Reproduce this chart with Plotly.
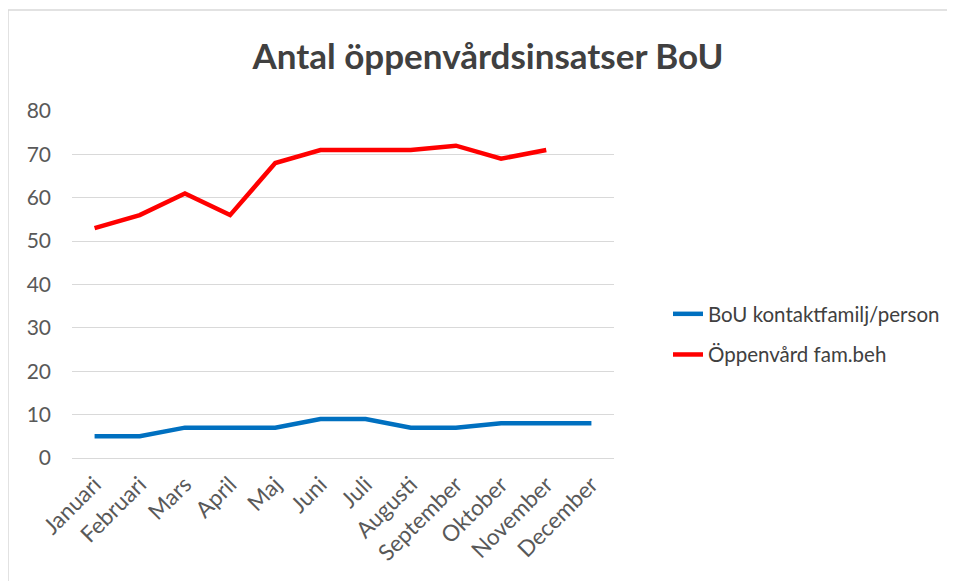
import plotly.graph_objects as go

months = ["Januari", "Februari", "Mars", "April", "Maj", "Juni", "Juli",
          "Augusti", "September", "Oktober", "November", "December"]
bou_kontakt = [5, 5, 7, 7, 7, 9, 9, 7, 7, 8, 8, 8]
oppenvard = [53, 56, 61, 56, 68, 71, 71, 71, 72, 69, 71, None]
y_ticks = [0, 10, 20, 30, 40, 50, 60, 70, 80]

OFF = 8  # page body margin
W, H = 955, 581
# target screen pixel positions of the plot area
L, R, T, B = 72 - OFF, 614 - OFF, 111 - OFF, 458 - OFF
FONT = "Lato"

def px_x(x):
    return (x - OFF - L) / (R - L)

def px_y(y):
    return (B - (y - OFF)) / (B - T)

fig = go.Figure()
fig.add_trace(go.Scatter(x=months, y=bou_kontakt, mode="lines",
                         name="BoU kontaktfamilj/person", legendgroup="a",
                         line=dict(color="#0070C0", width=4.5)))
fig.add_trace(go.Scatter(x=months, y=oppenvard, mode="lines",
                         name="Öppenvård fam.beh", legendgroup="b",
                         line=dict(color="#FF0000", width=4.5)))

fig.update_layout(
    width=W, height=H,
    margin=dict(l=L, r=W - R, t=T, b=H - B, pad=0),
    paper_bgcolor="white", plot_bgcolor="white",
    title=dict(text="<b>Antal öppenvårdsinsatser BoU</b>", x=px_x(488), xref="paper",
               xanchor="center", y=1 - (57 - OFF) / H, yanchor="middle",
               font=dict(family=FONT, size=35, color="#404040")),
    font=dict(family=FONT, color="#595959"),
    xaxis=dict(type="category", range=[-0.5, 11.5], tickangle=-45, showgrid=False,
               showline=False, ticks="", ticklabelstandoff=8,
               tickfont=dict(size=22.5, color="#595959")),
    yaxis=dict(range=[0, 80], tickvals=y_ticks, showgrid=True, gridcolor="#d9d9d9",
               gridwidth=1, zeroline=True, zerolinecolor="#d9d9d9", zerolinewidth=1,
               showline=False, ticks="", ticklabelstandoff=20,
               tickfont=dict(size=21, color="#595959")),
    legend=dict(x=px_x(668), xanchor="left", y=px_y(294), yanchor="top",
                font=dict(size=20.5, color="#404040"), tracegroupgap=11,
                bgcolor="rgba(0,0,0,0)"),
    shapes=[
        dict(type="line", xref="paper", yref="paper", x0=px_x(8), x1=px_x(8),
             y0=px_y(10), y1=px_y(600), line=dict(color="#d9d9d9", width=1.5)),
        dict(type="line", xref="paper", yref="paper", x0=px_x(4), x1=px_x(960),
             y0=px_y(10), y1=px_y(10), line=dict(color="#d9d9d9", width=1.5)),
    ],
)

fig.write_html("out.html")
